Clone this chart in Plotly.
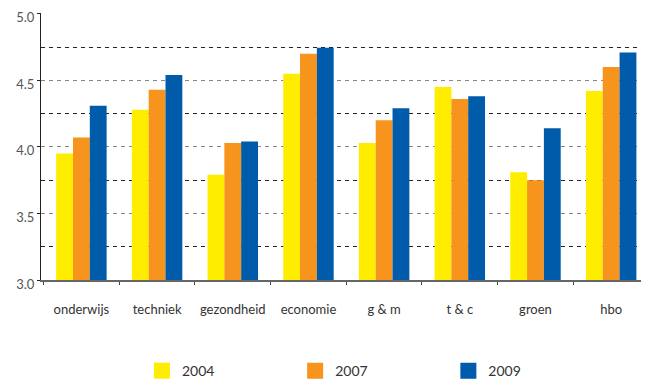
import plotly.graph_objects as go

categories = ["onderwijs", "techniek", "gezondheid", "economie", "g &amp; m", "t &amp; c", "groen", "hbo"]
years = ["2004", "2007", "2009"]
values_2004 = [3.95, 4.28, 3.79, 4.55, 4.03, 4.45, 3.81, 4.42]
values_2007 = [4.07, 4.43, 4.03, 4.70, 4.20, 4.36, 3.75, 4.60]
values_2009 = [4.31, 4.54, 4.04, 4.745, 4.29, 4.38, 4.14, 4.71]
colors = ["#FFED00", "#F7941D", "#005BAA"]

series = [values_2004, values_2007, values_2009]
fig = go.Figure()
for name, vals, col in zip(years, series, colors):
    fig.add_trace(go.Bar(x=categories, y=vals, name=name, marker=dict(color=col, line=dict(width=0)),
                         showlegend=False))

legend_names = ["legend", "legend2", "legend3"]
legend_x = [0.166, 0.418, 0.670]
for name, col, lg in zip(years, colors, legend_names):
    fig.add_trace(go.Scatter(x=[categories[0]], y=[None], mode="markers", name=name,
                             marker=dict(symbol="square", size=16, color=col),
                             legend=lg, showlegend=True))

font = "Lato, 'Open Sans', sans-serif"
layout_legends = {}
for lg, lx in zip(legend_names, legend_x):
    layout_legends[lg] = dict(x=lx, y=-0.341, xanchor="left", yanchor="middle", orientation="h",
                              itemsizing="trace", font=dict(family=font, size=14, color="#333"),
                              bgcolor="rgba(0,0,0,0)", borderwidth=0)

fig.update_layout(
    width=641, height=374,
    margin=dict(l=33, r=0, t=5, b=102, autoexpand=False),
    paper_bgcolor="white", plot_bgcolor="white",
    barmode="group", bargap=0.333, bargroupgap=0,
    font=dict(family=font, size=13, color="#333"),
    xaxis=dict(showline=True, linecolor="#666", linewidth=2, ticks="outside", tickson="boundaries",
               ticklen=3, tickcolor="#444", tickfont=dict(size=13, color="#333"), showgrid=False,
               ticklabelstandoff=16),
    yaxis=dict(range=[3, 5.006], tickvals=[3.0, 3.5, 4.0, 4.5, 5.0], tickformat=".1f",
               showline=True, linecolor="#222", linewidth=1,
               ticks="outside", ticklen=3, tickcolor="#222", tickfont=dict(size=13, color="#555"),
               ticklabelstandoff=0, ticklabelshift=4, ticklabeloverflow="allow",
               showgrid=True, gridcolor="#888", griddash="4px,4px", gridwidth=1, zeroline=False,
               minor=dict(tickvals=[3.25, 3.75, 4.25, 4.75], showgrid=True, gridcolor="#222",
                          griddash="4px,4px", gridwidth=1)),
    **layout_legends,
)

fig.write_html("out.html")
